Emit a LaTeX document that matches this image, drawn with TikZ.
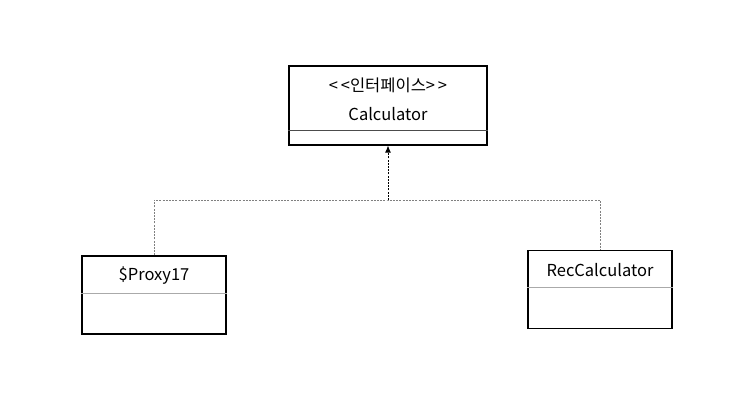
\documentclass[tikz,border=0pt]{standalone}
\usepackage{fontspec}
\setmainfont{Noto Sans CJK KR}
\usetikzlibrary{arrows.meta, positioning}
\definecolor{mygray}{RGB}{128,128,128}
\definecolor{mylight}{RGB}{170,170,170}

\begin{document}
\begin{tikzpicture}[x=1pt,y=-1pt,
    every node/.style={font=\fontsize{16.5}{19}\selectfont},
    classbox/.style={draw,line width=1.2pt,minimum width=144pt,minimum height=78pt,inner sep=0pt},
    divider/.style={draw=mylight,line width=1pt},
    dep/.style={mygray,line width=0.8pt,dash pattern=on 2pt off 1.2pt}]
    \useasboundingbox (0,0) rectangle (745,402);
    % interface
    \node[classbox,minimum width=198pt,minimum height=79pt] (calc) at (388,105.5) {};
    \node (calcst) at (388,85.5) {{<}\,{<}인터페이스{>}\,{>}};
    \node[below=7pt of calcst] (calcname) {Calculator};
    \draw[draw=black!70,line width=1pt] ([yshift=15pt]calc.south west) -- ([yshift=15pt]calc.south east);
    % implementations
    \node[classbox] (proxy) at (154,295) {};
    \node (proxyname) at (154,276) {\$Proxy17};
    \draw[divider] ([yshift=-38pt]proxy.north west) -- ([yshift=-38pt]proxy.north east);
    \node[classbox] (rec) at (600,289.5) {};
    \node (recname) at (600,270) {RecCalculator};
    \draw[divider] ([yshift=-38pt]rec.north west) -- ([yshift=-38pt]rec.north east);
    % realization
    \coordinate (bus) at (388,200);
    \draw[dep] (proxy.north) |- (bus) -| (rec.north);
    \draw[dep,-{Latex[length=7pt,width=6pt]},black] (bus) -- (calc.south);
\end{tikzpicture}
\end{document}
